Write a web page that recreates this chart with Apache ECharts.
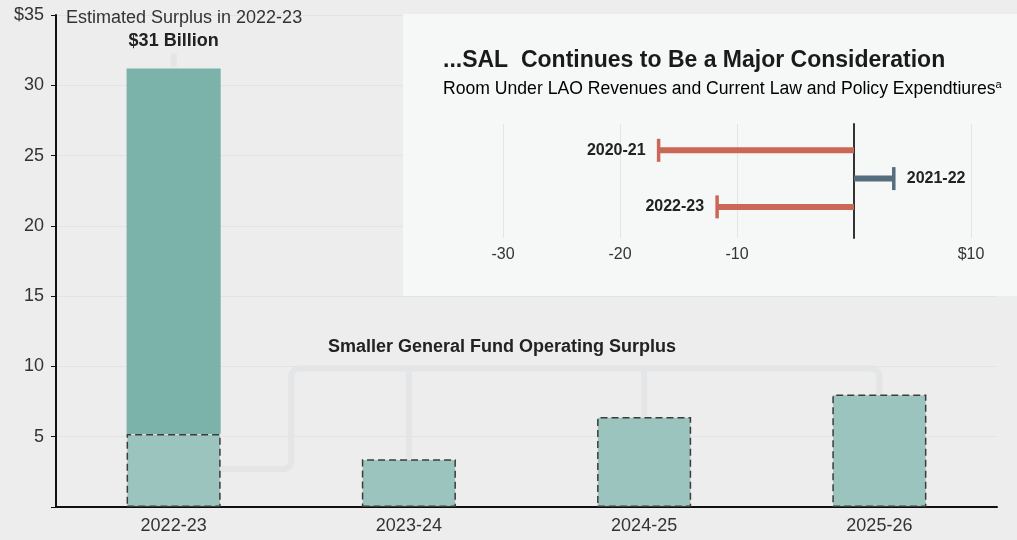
<!DOCTYPE html>
<html>
<head>
<meta charset="utf-8">
<script src="https://cdn.jsdelivr.net/npm/echarts@6/dist/echarts.min.js"></script>
<style>
  html, body { margin: 0; padding: 0; background: #ecedec; }
  #main { width: 1017px; height: 540px; }
</style>
</head>
<body>
<div id="main"></div>
<script>
// main chart: general fund operating surplus (billions)
var years = ['2022-23', '2023-24', '2024-25', '2025-26'];
var operating = [5.2, 3.4, 6.4, 8.0];
var estimatedTotal = [31.2, null, null, null];
var yTicks = [0, 5, 10, 15, 20, 25, 30, 35];

// inset: room under LAO revenues (billions)
var roomYears = ['2020-21', '2021-22', '2022-23'];
var room = [-16.7, 3.4, -11.7];
var roomTicks = [-30, -20, -10, 0, 10];

var FONT = '"Liberation Sans", Arial, sans-serif';
var topPart = estimatedTotal.map(function (t, i) { return t == null ? '-' : +(t - operating[i]).toFixed(1) });

var chart = echarts.init(document.getElementById('main'), null, { renderer: 'canvas' });

var baseGraphic = [
  { type: 'rect', id: 'insetBg', z: 1, shape: { x: 403, y: 14, width: 614, height: 282 }, style: { fill: '#f6f7f7' } },
  { type: 'text', id: 't1', z: 10, x: 66, y: 18, style: { text: 'Estimated Surplus in 2022-23', font: '18px ' + FONT, fill: '#333', verticalAlign: 'middle' } },
  { type: 'text', id: 't2', z: 10, x: 328, y: 347, style: { text: 'Smaller General Fund Operating Surplus', font: 'bold 18px ' + FONT, fill: '#222', verticalAlign: 'middle' } },
  { type: 'text', id: 't3', z: 10, x: 443, y: 61, style: { text: '...SAL  Continues to Be a Major Consideration', font: 'bold 23px ' + FONT, fill: '#1a1a1a', verticalAlign: 'middle' } },
  { type: 'text', id: 't4', z: 10, x: 443, y: 89, style: {
      text: '{m|Room Under LAO Revenues and Current Law and Policy Expendtiures}{s|a}',
      verticalAlign: 'middle',
      rich: {
        m: { fontSize: 17.6, fontFamily: FONT, color: '#333', lineHeight: 20 },
        s: { fontSize: 11, fontFamily: FONT, color: '#333', verticalAlign: 'top', lineHeight: 20 }
      }
    } }
];

var option = {
  backgroundColor: '#ecedec',
  animation: false,
  grid: [
    { left: 56, right: 20, top: 15, bottom: 33 },
    { left: 503, right: 46, top: 124, bottom: 302 }
  ],
  xAxis: [{
    type: 'category',
    data: years,
    axisLine: { lineStyle: { color: '#111', width: 2 } },
    axisTick: { show: false },
    axisLabel: { fontSize: 18, fontFamily: FONT, color: '#333', margin: 10 }
  }, {
    type: 'value',
    gridIndex: 1,
    min: roomTicks[0],
    max: roomTicks[roomTicks.length - 1],
    interval: 10,
    z: 3,
    axisLine: { show: false },
    axisTick: { show: false },
    splitLine: { lineStyle: { color: '#e3e5e5' } },
    axisLabel: {
      fontSize: 16, fontFamily: FONT, color: '#333', margin: 9,
      formatter: function (v) { return v === 0 ? '' : (v === 10 ? '$' + v : v) }
    }
  }],
  yAxis: [{
    type: 'value',
    min: yTicks[0],
    max: yTicks[yTicks.length - 1],
    interval: 5,
    axisLine: { show: true, lineStyle: { color: '#111', width: 2 } },
    axisTick: { show: true, length: 5, lineStyle: { color: '#111' } },
    splitLine: { lineStyle: { color: '#e2e4e4' } },
    axisLabel: {
      fontSize: 18, fontFamily: FONT, color: '#333', margin: 12,
      formatter: function (v) { return v === 0 ? '' : (v === 35 ? '$' + v : v) }
    }
  }, {
    type: 'value',
    gridIndex: 1,
    inverse: true,
    min: -0.93,
    max: 3.1,
    z: 4,
    axisLine: { show: true, onZero: true, lineStyle: { color: '#333', width: 2 } },
    axisTick: { show: false },
    axisLabel: { show: false },
    splitLine: { show: false }
  }],
  graphic: baseGraphic,
  series: [{
    name: 'Operating surplus',
    type: 'bar',
    stack: 'surplus',
    barWidth: '40%',
    z: 3,
    data: operating,
    itemStyle: { color: '#9bc4be', borderColor: '#3c3c3c', borderWidth: 1.5, borderType: [7, 4] }
  }, {
    name: 'Estimated surplus',
    type: 'bar',
    stack: 'surplus',
    barWidth: '40%',
    data: topPart,
    itemStyle: { color: '#7bb2a9' },
    label: {
      show: true,
      position: 'top',
      distance: 18,
      fontSize: 18,
      fontWeight: 'bold',
      fontFamily: FONT,
      color: '#222',
      formatter: function (p) { return '$' + Math.round(estimatedTotal[p.dataIndex]) + ' Billion' }
    }
  }, {
    name: 'Room',
    type: 'custom',
    xAxisIndex: 1,
    yAxisIndex: 1,
    z: 5,
    data: room.map(function (v, i) { return [v, i] }),
    renderItem: function (params, api) {
      var val = api.value(0), row = api.value(1);
      var p0 = api.coord([0, row]);
      var p1 = api.coord([val, row]);
      var color = val < 0 ? '#cb6757' : '#566d7e';
      var dir = val < 0 ? -1 : 1;
      return {
        type: 'group',
        children: [
          { type: 'line', shape: { x1: p0[0], y1: p0[1], x2: p1[0], y2: p1[1] }, style: { stroke: color, lineWidth: 6 } },
          { type: 'line', shape: { x1: p1[0], y1: p1[1] - 11.5, x2: p1[0], y2: p1[1] + 11.5 }, style: { stroke: color, lineWidth: 3.5 } },
          { type: 'text', x: p1[0] + dir * 13, y: p1[1], style: {
              text: roomYears[params.dataIndex], font: 'bold 16px ' + FONT, fill: '#222',
              align: dir < 0 ? 'right' : 'left', verticalAlign: 'middle' } }
        ]
      };
    }
  }]
};

chart.setOption(option);

// connector lines, placed from the bar values through the axes
function roundedPoints(pts, r) {
  var out = [pts[0]];
  for (var i = 1; i < pts.length - 1; i++) {
    var a = pts[i - 1], p = pts[i], b = pts[i + 1];
    var d1 = Math.hypot(p[0] - a[0], p[1] - a[1]);
    var d2 = Math.hypot(b[0] - p[0], b[1] - p[1]);
    var rr = Math.min(r, d1 / 2, d2 / 2);
    var s = [p[0] + (a[0] - p[0]) * rr / d1, p[1] + (a[1] - p[1]) * rr / d1];
    var e = [p[0] + (b[0] - p[0]) * rr / d2, p[1] + (b[1] - p[1]) * rr / d2];
    for (var k = 0; k <= 8; k++) {
      var t = k / 8, u = 1 - t;
      out.push([u * u * s[0] + 2 * u * t * p[0] + t * t * e[0], u * u * s[1] + 2 * u * t * p[1] + t * t * e[1]]);
    }
  }
  out.push(pts[pts.length - 1]);
  return out;
}

var px = function (i, v) { return chart.convertToPixel({ gridIndex: 0 }, [i, v]) };
var band = px(1, 0)[0] - px(0, 0)[0];
var barHalf = band * 0.2;
var bridgeLevel = 9.85, lowLevel = 2.7;
var yHi = px(0, bridgeLevel)[1], yLo = px(0, lowLevel)[1];
var xMid = (px(0, 0)[0] + px(1, 0)[0]) / 2;
var last = years.length - 1;

var connColor = '#e3e5e6';
var conn = [{
  type: 'polyline', id: 'connMain', z: 1,
  shape: { points: roundedPoints([
    [px(0, 0)[0] + barHalf, yLo], [xMid, yLo], [xMid, yHi],
    [px(last, 0)[0], yHi], px(last, operating[last])
  ], 9) },
  style: { fill: null, stroke: connColor, lineWidth: 6 }
}];
for (var i = 1; i < last; i++) {
  var barTop = px(i, operating[i]);
  conn.push({ type: 'line', id: 'connB' + i, z: 1,
    shape: { x1: barTop[0], y1: yHi, x2: barTop[0], y2: barTop[1] },
    style: { stroke: connColor, lineWidth: 6 } });
}
var t0 = px(0, estimatedTotal[0]);
conn.push({ type: 'line', id: 'stub', z: 1,
  shape: { x1: t0[0], y1: t0[1] - 2, x2: t0[0], y2: t0[1] - 15 },
  style: { stroke: connColor, lineWidth: 6 } });

chart.setOption({ graphic: baseGraphic.concat(conn) });
</script>
</body>
</html>
